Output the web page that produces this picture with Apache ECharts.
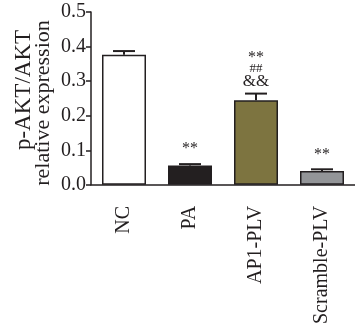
<!DOCTYPE html>
<html><head><meta charset="utf-8">
<script src="https://cdn.jsdelivr.net/npm/echarts@6/dist/echarts.min.js"></script>
<style>html,body{margin:0;padding:0;background:#fff}#c{width:355px;height:327px}</style>
</head><body><div id="c"></div>
<script>
const categories = ['NC', 'PA', 'AP1-PLV', 'Scramble-PLV'];
const values = [0.376, 0.056, 0.245, 0.040];
const errors = [0.011, 0.004, 0.019, 0.005];
const colors = ['#ffffff', '#231f20', '#7d7440', '#939598'];
const annotations = [[], ['**'], ['**', '##', '&&'], ['**']];
const yTicks = [0, 0.1, 0.2, 0.3, 0.4, 0.5];
const yNameLines = ['p-AKT/AKT', 'relative expression'];

const FONT = '"Liberation Serif", "DejaVu Serif", serif';
const nameLayout = [{ x: 24, y: 90, size: 23 }, { x: 43, y: 103, size: 22 }];
const chart = echarts.init(document.getElementById('c'));
chart.setOption({
  animation: false,
  grid: { left: 91, right: 0, top: 12, bottom: 141 },
  graphic: yNameLines.map((t, k) => ({
    type: 'text', x: nameLayout[k].x, y: nameLayout[k].y, rotation: Math.PI / 2,
    style: { text: t, align: 'center', verticalAlign: 'middle',
      font: nameLayout[k].size + 'px ' + FONT, fill: '#231f20' }
  })),
  xAxis: {
    type: 'category', data: categories,
    axisLine: { lineStyle: { color: '#231f20', width: 1.5 } },
    axisTick: { alignWithLabel: true, length: 5, lineStyle: { color: '#231f20', width: 1.5 } },
    axisLabel: { rotate: 90, margin: 21, color: '#231f20', fontFamily: FONT, fontSize: 20 }
  },
  yAxis: {
    type: 'value', min: 0, max: 0.5, interval: 0.1,
    axisLine: { show: true, lineStyle: { color: '#231f20', width: 1.5 } },
    axisTick: { show: true, length: 5, lineStyle: { color: '#231f20', width: 1.5 } },
    splitLine: { show: false },
    axisLabel: { color: '#231f20', fontFamily: FONT, fontSize: 20, margin: 5,
      formatter: v => yTicks.includes(Math.round(v*10)/10) ? v.toFixed(1) : '' }
  },
  series: [
    {
      type: 'bar', barWidth: 44,
      data: values.map((v, i) => ({ value: v, itemStyle: { color: colors[i] } })),
      itemStyle: { borderColor: '#231f20', borderWidth: 1.5 },
      z: 2
    },
    {
      type: 'custom', z: 3,
      data: values.map((v, i) => [i, v, errors[i]]),
      renderItem: (params, api) => {
        const x = api.coord([api.value(0), api.value(1)]);
        const top = api.coord([api.value(0), api.value(1) + api.value(2)]);
        const ls = { stroke: '#231f20', lineWidth: 2 };
        return { type: 'group', children: [
          { type: 'line', shape: { x1: x[0], y1: x[1], x2: top[0], y2: top[1] }, style: ls },
          { type: 'line', shape: { x1: top[0] - 11, y1: top[1], x2: top[0] + 11, y2: top[1] }, style: ls }
        ]};
      }
    },
    {
      type: 'custom', z: 4,
      data: values.map((v, i) => [i, v + errors[i]]),
      renderItem: (params, api) => {
        const i = params.dataIndex;
        const p = api.coord([api.value(0), api.value(1)]);
        const lines = annotations[i];
        const children = [];
        const offs = { '&&': 12, '##': 25, '**': 36 };
        for (let k = 0; k < lines.length; k++) {
          const off = lines.length === 1 ? 15 : offs[lines[k]];
          children.push({ type: 'text', style: {
            text: lines[k], x: p[0], y: p[1] - off,
            align: 'center', verticalAlign: 'middle',
            font: (lines[k] === '##' ? '13px ' : lines[k] === '&&' ? '17px ' : '16px ') + FONT, fill: '#231f20'
          }});
        }
        return { type: 'group', children };
      }
    }
  ]
});
</script></body></html>
